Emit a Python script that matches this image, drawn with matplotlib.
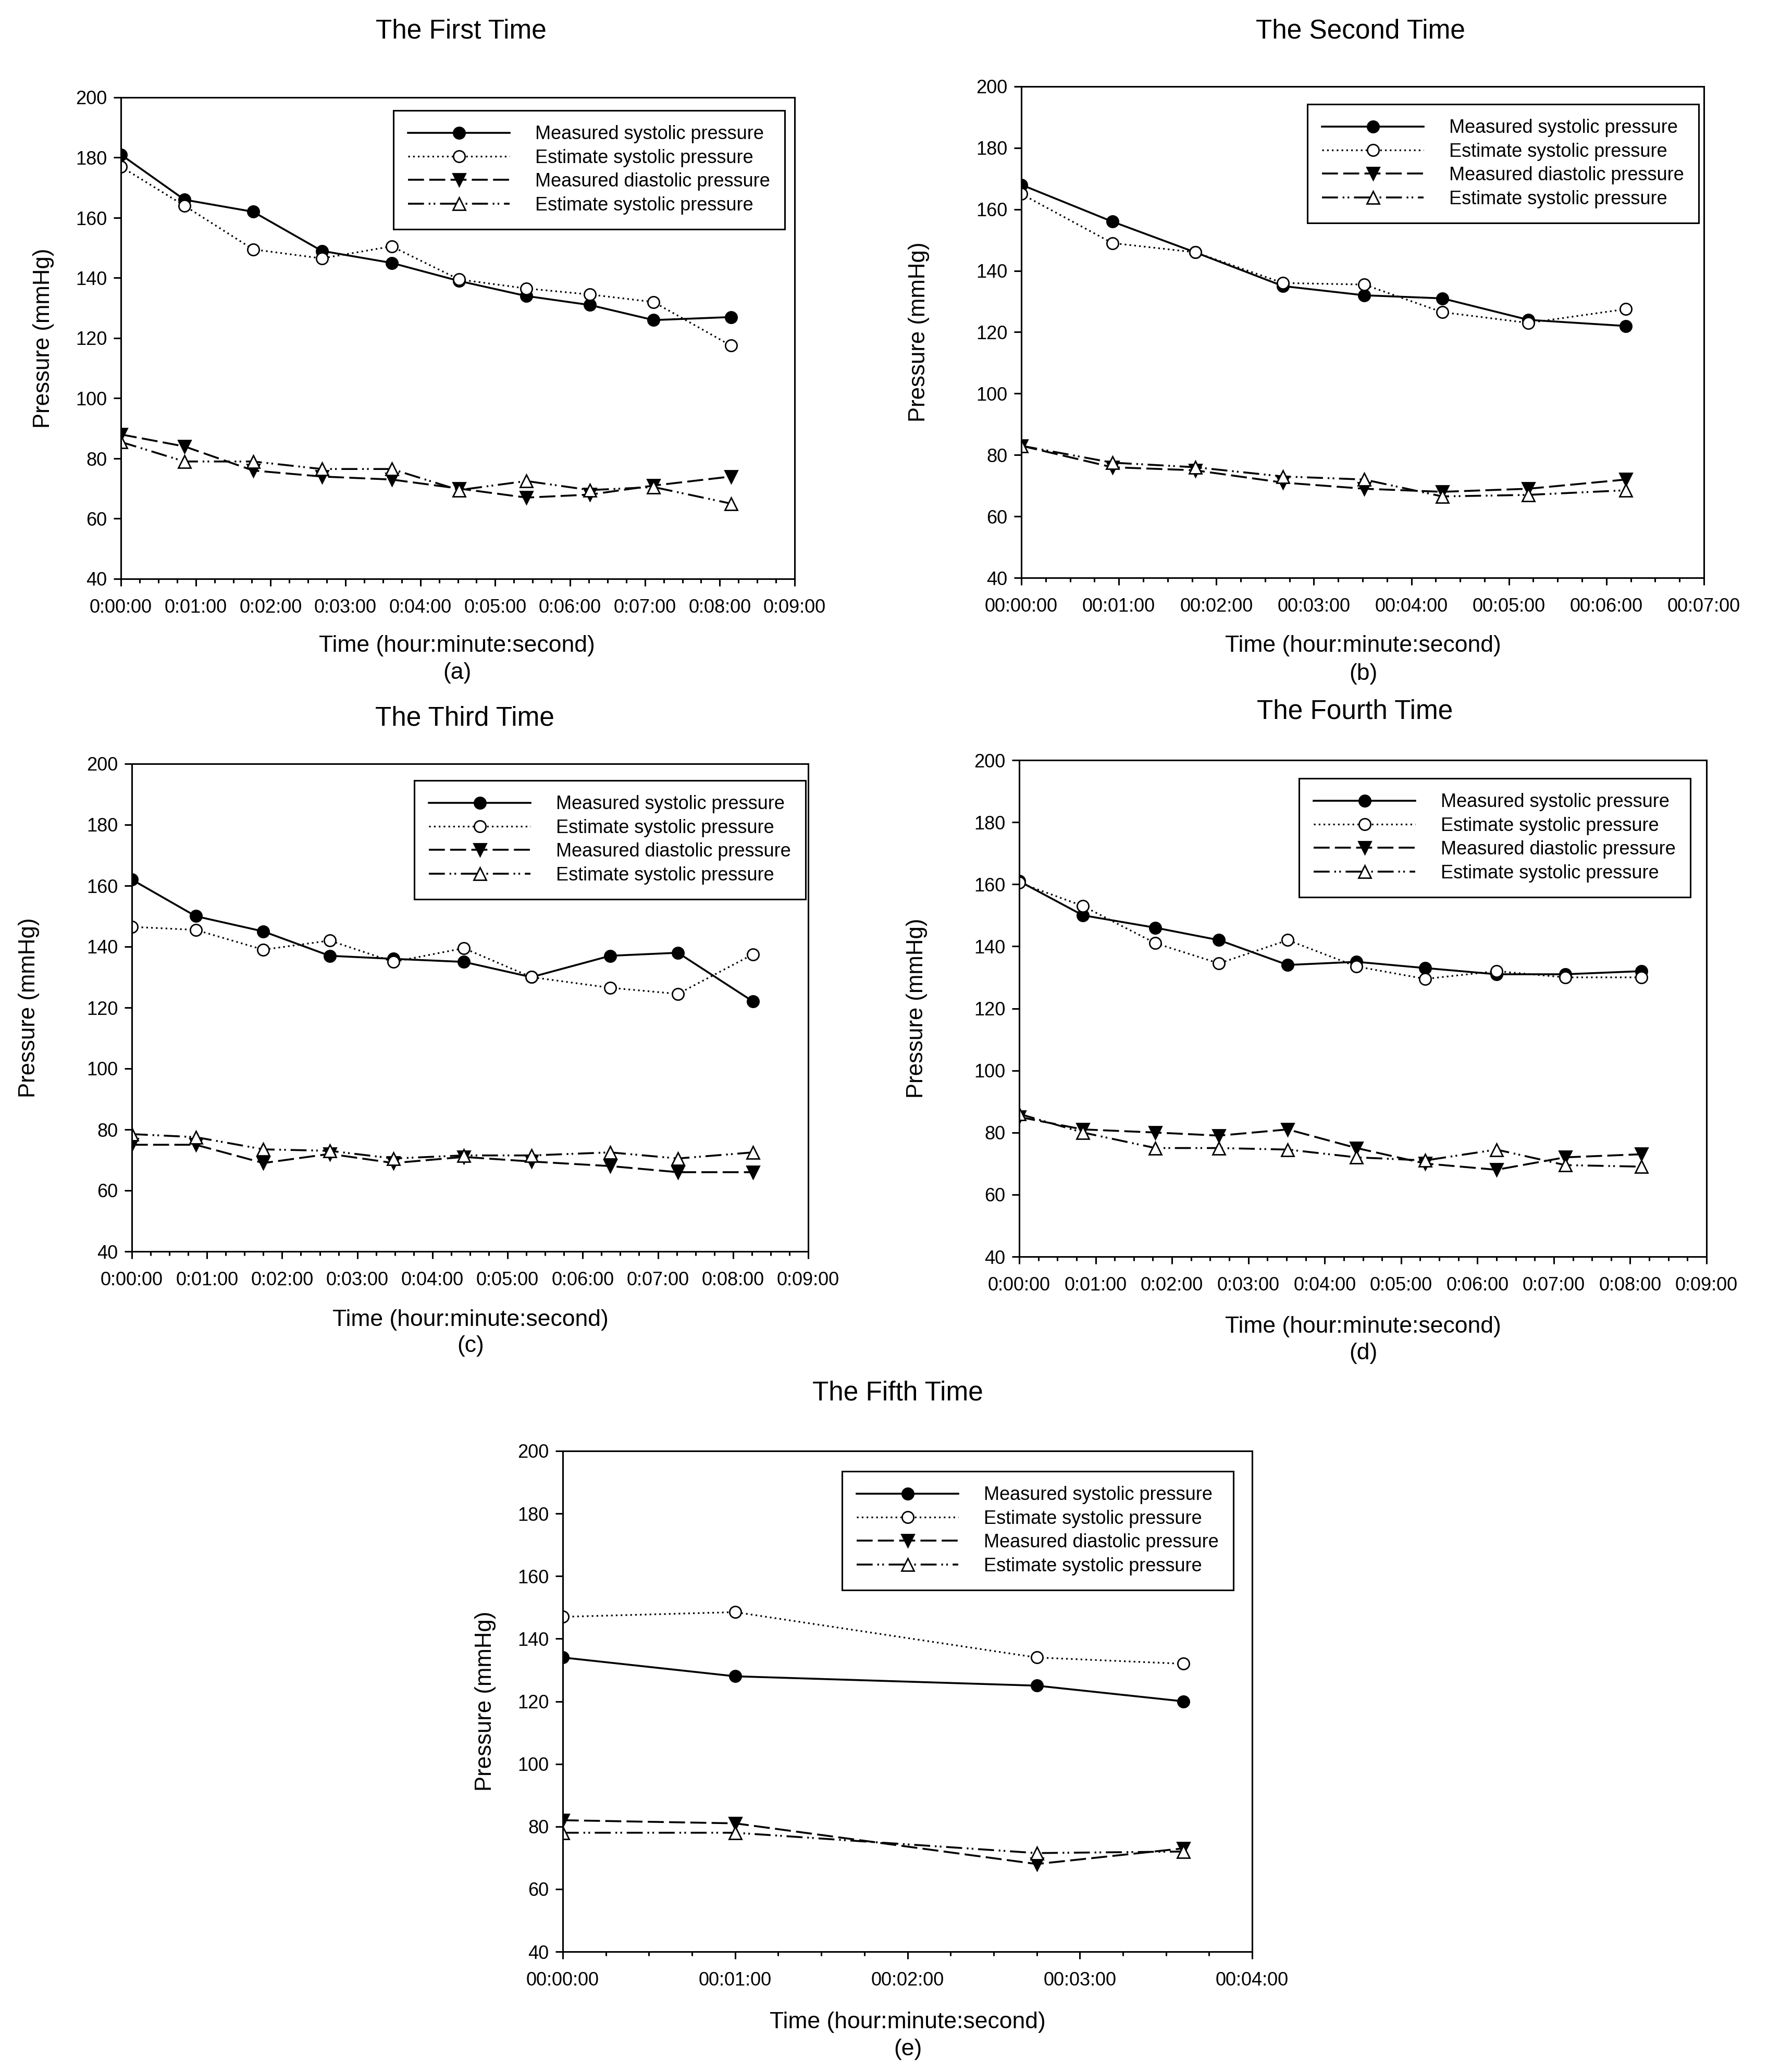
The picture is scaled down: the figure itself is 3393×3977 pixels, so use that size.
import matplotlib
matplotlib.use("Agg")
import matplotlib.pyplot as plt
from matplotlib.ticker import FixedLocator, FuncFormatter, MultipleLocator
from matplotlib.transforms import Bbox

plt.rcParams["font.family"] = ["Liberation Sans", "DejaVu Sans"]

W, H = 3393, 3977
DPI = 100

labels = ["Measured systolic pressure", "Estimate systolic pressure",
          "Measured diastolic pressure", "Estimate systolic pressure"]
titles = ["The First Time", "The Second Time", "The Third Time",
          "The Fourth Time", "The Fifth Time"]
tags = ["(a)", "(b)", "(c)", "(d)", "(e)"]

# time of each reading, seconds from start
t1 = [0, 51, 106, 161, 217, 271, 325, 376, 427, 489]
t2 = [0, 56, 107, 161, 211, 259, 312, 372]
t3 = [0, 51, 105, 158, 209, 265, 319, 382, 436, 496]
t4 = [0, 50, 107, 157, 211, 265, 319, 375, 429, 489]
t5 = [0, 60, 165, 216]

# measured systolic / estimated systolic / measured diastolic / estimated diastolic
ms1 = [181, 166, 162, 149, 145, 139, 134, 131, 126, 127]
es1 = [177, 164, 149.5, 146.5, 150.5, 139.5, 136.5, 134.5, 132, 117.5]
md1 = [88, 84, 76, 74, 73, 70, 67, 68, 71, 74]
ed1 = [85.5, 79, 79, 76.5, 76.5, 69.5, 72.5, 69.5, 70.5, 65]

ms2 = [168, 156, 146, 135, 132, 131, 124, 122]
es2 = [165, 149, 146, 136, 135.5, 126.5, 123, 127.5]
md2 = [83, 76, 75, 71, 69, 68, 69, 72]
ed2 = [83, 77.5, 76, 73, 72, 66.5, 67, 68.5]

ms3 = [162, 150, 145, 137, 136, 135, 130, 137, 138, 122]
es3 = [146.5, 145.5, 139, 142, 135, 139.5, 130, 126.5, 124.5, 137.5]
md3 = [75, 75, 69, 72, 69, 71, 69.5, 68, 66, 66]
ed3 = [78.5, 77.5, 73.5, 73, 70.5, 71.5, 71.5, 72.5, 70.5, 72.5]

ms4 = [161, 150, 146, 142, 134, 135, 133, 131, 131, 132]
es4 = [160.5, 153, 141, 134.5, 142, 133.5, 129.5, 132, 130, 130]
md4 = [85, 81, 80, 79, 81, 75, 70, 68, 72, 73]
ed4 = [86, 80, 75, 75, 74.5, 72, 71, 74.5, 69.5, 69]

ms5 = [134, 128, 125, 120]
es5 = [147, 148.5, 134, 132]
md5 = [82, 81, 68, 73]
ed5 = [78, 78, 71.5, 72]

x_minutes = [9, 7, 9, 9, 4]
tick_fmt = ["0:{:02d}:00", "00:{:02d}:00", "0:{:02d}:00", "0:{:02d}:00", "00:{:02d}:00"]

data = [
    (t1, ms1, es1, md1, ed1),
    (t2, ms2, es2, md2, ed2),
    (t3, ms3, es3, md3, ed3),
    (t4, ms4, es4, md4, ed4),
    (t5, ms5, es5, md5, ed5),
]

# layout in pixels: axes (left, right, top, bottom), title, xlabel, tag, ylabel x, legend top-left
axes_px = [(232, 1525, 187, 1111), (1960, 3270, 166, 1109), (253, 1551, 1466, 2402),
           (1956, 3275, 1459, 2412), (1080, 2403, 2785, 3746)]
title_px = [(885, 60), (2611, 60), (892, 1379), (2600, 1366), (1723, 2674)]
xlab_px = [(877, 1240), (2616, 1240), (903, 2533), (2616, 2546), (1742, 3881)]
tag_px = [(877, 1291), (2616, 1293), (903, 2584), (2616, 2597), (1742, 3933)]
ylab_px = [84, 1763, 56, 1759, 931]
leg_px = [(755, 212), (2509, 200), (795, 1498), (2493, 1494), (1616, 2824)]
clip_last = [None, 3340, None, None, 2462]

LW = 2.6
styles = [
    dict(ls="-", marker="o", mfc="black", lw=LW),
    dict(ls=(0, (1.0, 1.9)), marker="o", mfc="white", lw=2.3),
    dict(ls=(0, (8.5, 2.8)), marker="v", mfc="black", lw=LW),
    dict(ls=(0, (8.5, 2.5, 0.9, 1.7, 0.9, 2.5)), marker="^", mfc="white", lw=LW),
]

fig = plt.figure(figsize=(W / DPI, H / DPI), dpi=DPI)

for i in range(5):
    l, r, t, b = axes_px[i]
    ax = fig.add_axes([l / W, 1 - b / H, (r - l) / W, (b - t) / H])
    xs = [s / 60 for s in data[i][0]]
    for k in range(4):
        st = styles[k]
        ms = 16 if st["marker"] == "o" else 17
        ax.plot(xs, data[i][k + 1], color="black", lw=st["lw"], linestyle=st["ls"],
                marker=st["marker"], markersize=ms, markerfacecolor=st["mfc"],
                markeredgecolor="black", markeredgewidth=2.0, label=labels[k])

    ax.set_xlim(0, x_minutes[i])
    ax.set_ylim(40, 200)
    ax.xaxis.set_major_locator(MultipleLocator(1))
    ax.xaxis.set_minor_locator(MultipleLocator(0.25))
    fmt = tick_fmt[i]
    ax.xaxis.set_major_formatter(FuncFormatter(lambda v, p, fmt=fmt: fmt.format(int(round(v)))))
    ax.yaxis.set_major_locator(FixedLocator(range(40, 201, 20)))
    for sp in ax.spines.values():
        sp.set_linewidth(2.2)
    ax.tick_params(axis="x", which="major", direction="out", length=10, width=2.2,
                   labelsize=26, pad=17)
    ax.tick_params(axis="x", which="minor", direction="out", length=5.8, width=2.2)
    ax.tick_params(axis="y", which="major", direction="out", length=10, width=2.2,
                   labelsize=26, pad=9)

    lx, ly = leg_px[i]
    leg = ax.legend(loc="upper left", bbox_to_anchor=(lx / W, 1 - ly / H),
                    bbox_transform=fig.transFigure, borderaxespad=0, fontsize=26,
                    handlelength=5.4, handletextpad=1.35, borderpad=0.78,
                    labelspacing=0.29, fancybox=False, framealpha=1, edgecolor="black")
    leg.get_frame().set_linewidth(2.2)

    cx, cy = title_px[i]
    fig.text(cx / W, 1 - cy / H, titles[i], ha="center", va="center", fontsize=37)
    cx, cy = xlab_px[i]
    fig.text(cx / W, 1 - cy / H, "Time (hour:minute:second)", ha="center", va="center", fontsize=32)
    cx, cy = tag_px[i]
    fig.text(cx / W, 1 - cy / H, tags[i], ha="center", va="center", fontsize=32)
    fig.text(ylab_px[i] / W, 1 - (t + b) / 2 / H, "Pressure (mmHg)", ha="center", va="center",
             rotation=90, fontsize=31.5)

    if clip_last[i] is not None:
        lab = ax.xaxis.get_major_ticks()[-1].label1
        lab.set_clip_on(True)
        lab.set_clip_box(Bbox([[0, 0], [clip_last[i], H]]))

fig.savefig("out.png", dpi=DPI, facecolor="white")
